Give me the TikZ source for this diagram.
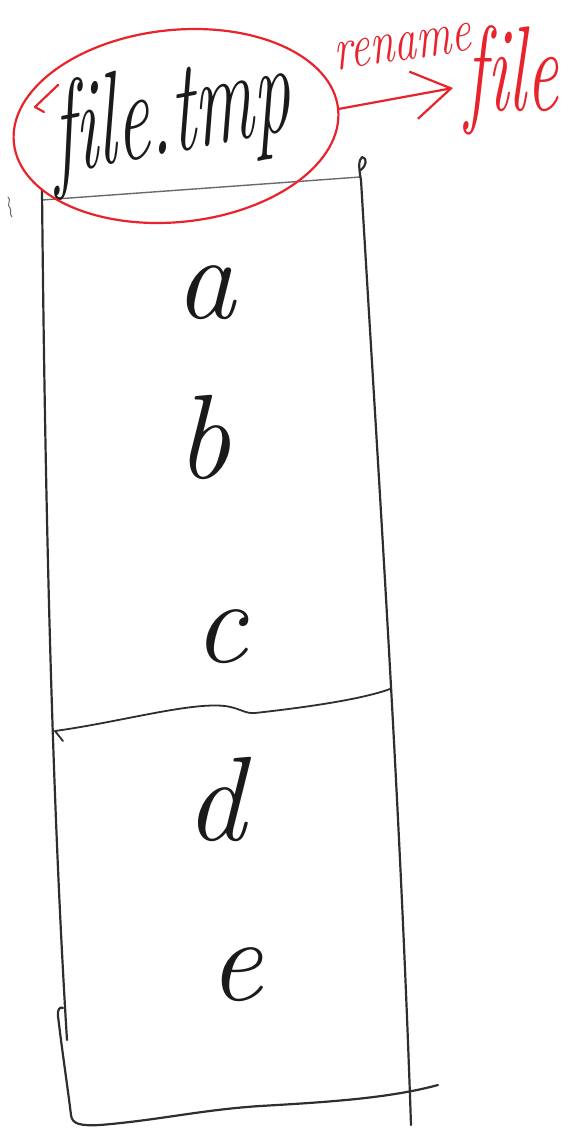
\documentclass[tikz,border=0pt]{standalone}
\usetikzlibrary{arrows.meta,shapes.geometric}
\definecolor{ink}{HTML}{1A1A1A}
\definecolor{pen}{HTML}{E8232B}
\definecolor{pencil}{HTML}{2E2E2E}
\definecolor{lightpencil}{HTML}{6A6A6A}
\begin{document}
\begin{tikzpicture}[x=1pt,y=-1pt,
  letter/.style={font=\fontsize{120}{120}\selectfont\itshape, text=ink, inner sep=0pt, anchor=base},
  redtext/.style={text=pen, inner sep=0pt, anchor=base},
  frame/.style={draw=pencil, line width=2.2pt, line cap=round, line join=round},
  thinframe/.style={draw=lightpencil, line width=1.4pt, line cap=round, line join=round},
  redline/.style={draw=pen, line width=2.2pt, line cap=round, line join=round},
]
\useasboundingbox (0,0) rectangle (579,1130);

% --- box outline ---
\coordinate (tl) at (42,200);
\coordinate (tr) at (360,177);
\draw[thinframe] (tl) -- (tr);
\coordinate (ltop) at (42,190);
\coordinate (lbot) at (67,1040);
\draw[frame] (ltop) .. controls (45,500) and (52,800) .. (lbot);
\coordinate (rtop) at (361,170);
\coordinate (rbot) at (411,1125);
\draw[frame] (rtop) .. controls (366,166) and (368,158) .. (362,157)
  .. controls (358,160) and (359,170) .. (361,180)
  .. controls (380,500) and (400,800) .. (rbot);
% divider
\coordinate (dl) at (63,741);
\coordinate (dr) at (390,689);
\draw[frame, line width=1.8pt] (dl) -- (55,731)
  .. controls (120,722) and (190,702) .. (225,706)
  .. controls (240,708) and (245,714) .. (255,713)
  .. controls (300,708) and (360,700) .. (dr);
% bottom
\coordinate (bl) at (63,1008);
\coordinate (br) at (438,1085);
\draw[frame] (bl) .. controls (60,1006) and (57,1010) .. (58,1016)
  .. controls (62,1050) and (68,1090) .. (71,1115)
  .. controls (72,1124) and (80,1126) .. (100,1125)
  .. controls (160,1120) and (200,1110) .. (260,1106)
  .. controls (330,1102) and (390,1098) .. (br);
% stray mark
\coordinate (stray) at (8,197);
\draw[thinframe, line width=1pt] (stray) .. controls (12,200) and (6,205) .. (10,208) .. controls (12,211) and (9,214) .. (12,217);

% --- letters ---
\node[letter] (la) at (205,318) {a};
\node[letter] (lb) at (203,478) {b};
\node[letter] (lc) at (220,662) {c};
\node[letter] (ld) at (215,840) {d};
\node[letter] (le) at (235,1000) {e};

% --- file.tmp with red ellipse ---
\node[text=ink, inner sep=0pt, anchor=base, font=\fontsize{82}{82}\selectfont\itshape,
  xscale=0.9, yscale=1.6, rotate=6] (ftmp) at (174,152) {f\kern0pt ile.tmp};
\node[draw=pen, line width=2.2pt, ellipse, minimum width=326pt, minimum height=192pt,
  rotate=6, inner sep=0pt] (oval) at (176,126) {};
\coordinate (tail) at (58,85);
\draw[redline] (tail) -- (35,107) -- (44,112);

% --- rename arrow ---
\coordinate (tip) at (453,88);
\draw[redline, -{Straight Barb[length=38pt,width=48pt,line width=2.2pt]}] (oval.east) -- (tip);
\node[redtext, font=\fontsize{44}{44}\selectfont\itshape, yscale=1.4, rotate=6] (ren) at (404,60) {rename};
\node[redtext, font=\fontsize{71}{71}\selectfont\itshape, yscale=1.7] (nf) at (512,110) {f\kern0pt ile};
\end{tikzpicture}
\end{document}
